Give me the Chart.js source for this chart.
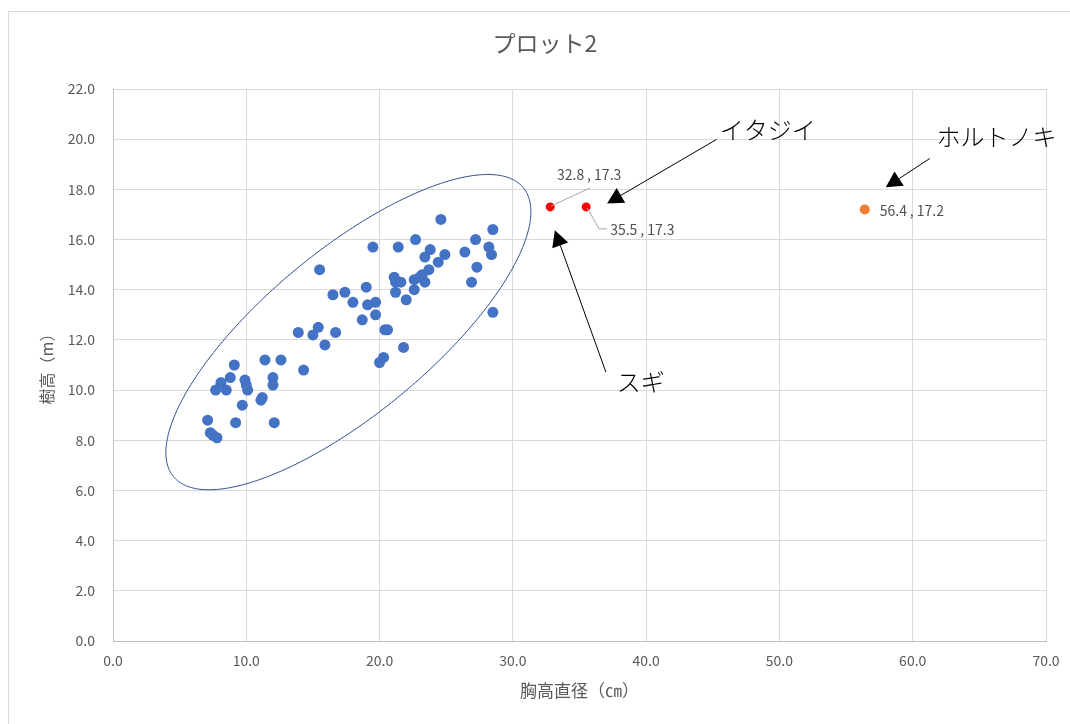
<!DOCTYPE html>
<html>
<head>
<meta charset="utf-8">
<title>プロット2</title>
<script src="https://cdn.jsdelivr.net/npm/chart.js@4.4.1/dist/chart.umd.min.js"></script>
<style>
  html, body { margin: 0; padding: 0; overflow: hidden; background: #fff; }
  canvas { display: block; }
</style>
</head>
<body>
<canvas id="plot" width="1092" height="724"></canvas>
<script>
// 胸高直径（cm）と樹高（m）— 一般木
const dbhGeneral = [
  7.1, 7.3, 7.5, 7.8, 9.2, 12.1, 9.7, 7.7, 8.5, 8.1, 8.8, 9.1, 9.9, 10.0, 10.1, 11.1, 11.2, 11.4, 12.6, 12.0, 12.0,
  15.5, 13.9, 15.0, 15.4, 16.7, 15.9, 14.3, 16.5, 17.4, 19.0, 18.0, 19.1, 19.7, 19.7, 18.7, 20.4, 20.6, 20.3, 20.0,
  21.8, 21.1, 21.2, 21.6, 21.2, 22.0, 19.5,
  24.6, 22.7, 21.4, 23.8, 23.4, 24.9, 24.4, 23.7, 23.2, 23.0, 22.6, 23.4, 22.6, 26.4, 27.2, 28.5, 28.2, 28.4, 27.3, 26.9, 28.5
];
const heightGeneral = [
  8.8, 8.3, 8.2, 8.1, 8.7, 8.7, 9.4, 10.0, 10.0, 10.3, 10.5, 11.0, 10.4, 10.2, 10.0, 9.6, 9.7, 11.2, 11.2, 10.5, 10.2,
  14.8, 12.3, 12.2, 12.5, 12.3, 11.8, 10.8, 13.8, 13.9, 14.1, 13.5, 13.4, 13.5, 13.0, 12.8, 12.4, 12.4, 11.3, 11.1,
  11.7, 14.5, 14.3, 14.3, 13.9, 13.6, 15.7,
  16.8, 16.0, 15.7, 15.6, 15.3, 15.4, 15.1, 14.8, 14.6, 14.5, 14.4, 14.3, 14.0, 15.5, 16.0, 16.4, 15.7, 15.4, 14.9, 14.3, 13.1
];

// 個別に注記する木
const sugiDbh = [32.8];
const sugiHeight = [17.3];
const itajiiDbh = [35.5];
const itajiiHeight = [17.3];
const hortonokiDbh = [56.4];
const hortonokiHeight = [17.2];

// 軸の目盛り
const xTickValues = [0, 10, 20, 30, 40, 50, 60, 70];
const yTickValues = [0, 2, 4, 6, 8, 10, 12, 14, 16, 18, 20, 22];

// 一般木の分布を囲む楕円（データ座標: 中心, 長軸ベクトル, 短軸ベクトル）
const clusterCenter = [17.66, 12.31];
const clusterMajor = [13.12, 5.76];
const clusterMinor = [3.92, -2.51];

// 矢印付きの注記（データ座標）
const calloutNames = ['イタジイ', 'スギ', 'ホルトノキ'];
const calloutTextAt = [[49.13, 20.36], [39.6, 10.32], [66.28, 20.08]];
const calloutFrom = [[45.28, 19.99], [36.98, 10.72], [61.28, 19.23]];
const calloutTo = [[37.07, 17.44], [33.15, 16.37], [57.98, 18.08]];

const FONT = '"Noto Sans CJK JP", "Noto Sans", sans-serif';
const toPoints = (xs, ys) => xs.map((v, i) => ({ x: v, y: ys[i] }));
const fmt = p => `${p.x.toFixed(1)}\u2009, ${p.y.toFixed(1)}`;

const frame = {
  id: 'frame',
  beforeDraw(chart) {
    const { ctx, width, height } = chart;
    ctx.save();
    ctx.fillStyle = '#ffffff';
    ctx.fillRect(0, 0, width, height);
    ctx.strokeStyle = '#d9d9d9';
    ctx.lineWidth = 1;
    ctx.strokeRect(8.5, 11.5, 1074, 730);
    ctx.restore();
  }
};

function arrow(ctx, x1, y1, x2, y2) {
  const ang = Math.atan2(y2 - y1, x2 - x1);
  const len = 16, half = 8.5;
  const bx = x2 - Math.cos(ang) * len, by = y2 - Math.sin(ang) * len;
  ctx.beginPath();
  ctx.moveTo(x1, y1);
  ctx.lineTo(bx, by);
  ctx.stroke();
  ctx.beginPath();
  ctx.moveTo(x2, y2);
  ctx.lineTo(bx + Math.sin(ang) * half, by - Math.cos(ang) * half);
  ctx.lineTo(bx - Math.sin(ang) * half, by + Math.cos(ang) * half);
  ctx.closePath();
  ctx.fill();
}

const overlay = {
  id: 'overlay',
  afterDatasetsDraw(chart) {
    const { ctx, scales: { x, y } } = chart;
    ctx.save();

    // 楕円
    ctx.strokeStyle = '#2f4f8f';
    ctx.lineWidth = 1;
    ctx.beginPath();
    for (let i = 0; i <= 360; i++) {
      const t = i * Math.PI / 180;
      const dx = clusterCenter[0] + Math.cos(t) * clusterMajor[0] + Math.sin(t) * clusterMinor[0];
      const dy = clusterCenter[1] + Math.cos(t) * clusterMajor[1] + Math.sin(t) * clusterMinor[1];
      const px = x.getPixelForValue(dx), py = y.getPixelForValue(dy);
      if (i === 0) ctx.moveTo(px, py); else ctx.lineTo(px, py);
    }
    ctx.closePath();
    ctx.stroke();

    // データラベル
    ctx.font = `14px ${FONT}`;
    ctx.fillStyle = '#505050';
    ctx.textBaseline = 'middle';
    ctx.strokeStyle = '#a6a6a6';
    ctx.lineWidth = 1;

    const sugi = chart.getDatasetMeta(1).data[0];
    ctx.beginPath();
    ctx.moveTo(sugi.x + 1, sugi.y - 1);
    ctx.lineTo(sugi.x + 40, sugi.y - 19);
    ctx.stroke();
    ctx.textAlign = 'center';
    ctx.fillText(fmt({ x: sugiDbh[0], y: sugiHeight[0] }), sugi.x + 39, sugi.y - 32);

    const itajii = chart.getDatasetMeta(2).data[0];
    ctx.beginPath();
    ctx.moveTo(itajii.x + 1, itajii.y + 1);
    ctx.lineTo(itajii.x + 13, itajii.y + 22);
    ctx.lineTo(itajii.x + 21, itajii.y + 22);
    ctx.stroke();
    ctx.textAlign = 'left';
    ctx.fillText(fmt({ x: itajiiDbh[0], y: itajiiHeight[0] }), itajii.x + 24, itajii.y + 23);

    const horto = chart.getDatasetMeta(3).data[0];
    ctx.fillText(fmt({ x: hortonokiDbh[0], y: hortonokiHeight[0] }), horto.x + 15, horto.y + 1);

    // 注記の矢印と名前
    ctx.strokeStyle = '#000000';
    ctx.fillStyle = '#000000';
    calloutNames.forEach((name, i) => {
      arrow(ctx,
        x.getPixelForValue(calloutFrom[i][0]), y.getPixelForValue(calloutFrom[i][1]),
        x.getPixelForValue(calloutTo[i][0]), y.getPixelForValue(calloutTo[i][1]));
    });
    ctx.font = `300 24px ${FONT}`;
    ctx.textAlign = 'center';
    ctx.textBaseline = 'middle';
    calloutNames.forEach((name, i) => {
      ctx.fillText(name, x.getPixelForValue(calloutTextAt[i][0]), y.getPixelForValue(calloutTextAt[i][1]));
    });

    ctx.restore();
  }
};

new Chart(document.getElementById('plot'), {
  type: 'scatter',
  data: {
    datasets: [
      {
        label: '一般木',
        data: toPoints(dbhGeneral, heightGeneral),
        backgroundColor: '#4472c4',
        borderWidth: 0,
        pointRadius: 5.5
      },
      {
        label: 'スギ',
        data: toPoints(sugiDbh, sugiHeight),
        backgroundColor: '#ff0000',
        borderWidth: 0,
        pointRadius: 4.5
      },
      {
        label: 'イタジイ',
        data: toPoints(itajiiDbh, itajiiHeight),
        backgroundColor: '#ff0000',
        borderWidth: 0,
        pointRadius: 4.5
      },
      {
        label: 'ホルトノキ',
        data: toPoints(hortonokiDbh, hortonokiHeight),
        backgroundColor: '#ed7d31',
        borderWidth: 0,
        pointRadius: 5
      }
    ]
  },
  options: {
    responsive: false,
    animation: false,
    events: [],
    layout: { padding: { left: 44, right: 46, top: 0, bottom: 0 } },
    plugins: {
      legend: { display: false },
      tooltip: { enabled: false },
      title: {
        display: true,
        text: 'プロット2',
        color: '#595959',
        font: { family: FONT, size: 23, weight: 'normal' },
        padding: { top: 29.2, bottom: 32.2 }
      }
    },
    scales: {
      x: {
        type: 'linear',
        min: 0,
        max: 70,
        afterBuildTicks: s => { s.ticks = xTickValues.map(v => ({ value: v })); },
        afterFit: s => { s.height = 83; },
        ticks: {
          color: '#595959',
          padding: 11,
          font: { family: FONT, size: 14 },
          callback: v => v.toFixed(1)
        },
        grid: { color: '#d9d9d9', drawTicks: false },
        border: { color: '#bfbfbf' },
        title: {
          display: true,
          text: '胸高直径（㎝）',
          color: '#595959',
          font: { family: FONT, size: 17 },
          padding: { top: 0, bottom: 22.8 }
        }
      },
      y: {
        type: 'linear',
        min: 0,
        max: 22,
        afterBuildTicks: s => { s.ticks = yTickValues.map(v => ({ value: v })); },
        afterFit: s => { s.width = 69; },
        ticks: {
          color: '#595959',
          padding: 18,
          font: { family: FONT, size: 14 },
          callback: v => v.toFixed(1)
        },
        grid: { color: '#d9d9d9', drawTicks: false },
        border: { color: '#bfbfbf' },
        title: {
          display: true,
          text: '樹高（m）',
          color: '#595959',
          font: { family: FONT, size: 16 },
          padding: { top: -6.6, bottom: 0 }
        }
      }
    }
  },
  plugins: [frame, overlay]
});
</script>
</body>
</html>
